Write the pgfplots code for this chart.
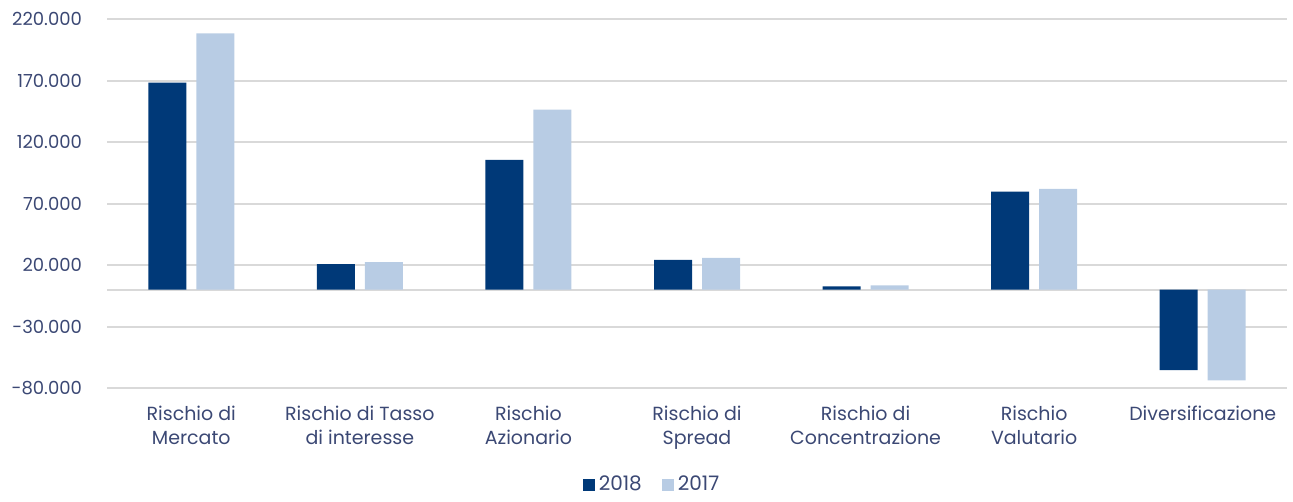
\documentclass[border=0pt]{standalone}
\usepackage{pgfplots}
\pgfplotsset{compat=1.18}
\usepackage{fontspec}
\setmainfont{Poppins}
\definecolor{c2018}{RGB}{0,57,120}
\definecolor{c2017}{RGB}{184,204,228}
\definecolor{gridc}{RGB}{217,217,217}
\definecolor{txt}{RGB}{59,72,116}
\begin{document}
\begin{tikzpicture}
\begin{axis}[
  name=ax,
  scale only axis,
  width=590pt, height=184.5pt,
  ybar=5pt, bar width=19pt,
  xmin=-0.5, xmax=6.5,
  ymin=-80000, ymax=220000,
  xtick={0,1,2,3,4,5,6},
  xticklabels={{Rischio di\\Mercato},{Rischio di Tasso\\di interesse},{Rischio\\Azionario},{Rischio di\\Spread},{Rischio di\\Concentrazione},{Rischio\\Valutario},{Diversificazione}},
  xticklabel style={align=center, font=\fontsize{9.5pt}{12pt}\selectfont, text=txt, yshift=-5.5pt},
  ytick={-80000,-30000,20000,70000,120000,170000,220000},
  yticklabels={-80.000,-30.000,20.000,70.000,120.000,170.000,220.000},
  extra y ticks={0},
  extra y tick labels={},
  extra y tick style={grid=major, major grid style={gridc, line width=1pt}},
  scaled y ticks=false,
  yticklabel style={font=\fontsize{9pt}{11pt}\selectfont, text=txt, xshift=-9pt},
  ymajorgrids,
  major grid style={gridc, line width=1pt},
  axis line style={draw=none},
  major tick length=0pt,
  legend style={at={(rel axis cs:0.4627,-0.262)}, anchor=center, draw=none, legend columns=2, font=\fontsize{10pt}{12pt}\selectfont, text=txt, /tikz/every even column/.append style={column sep=8pt}},
  legend image code/.code={\fill[#1] (0pt,-3pt) rectangle (6pt,3pt);},
  clip=false,
]
\addplot[fill=c2018, draw=none] coordinates {(0,168200) (1,20800) (2,105400) (3,24100) (4,2700) (5,79600) (6,-65500)};
\addplot[fill=c2017, draw=none] coordinates {(0,208400) (1,22400) (2,146300) (3,25700) (4,3500) (5,81800) (6,-73700)};
\legend{2018,2017}
\end{axis}
\path (ax.south west) +(-53.5pt,-55.5pt);
\path (ax.north east) +(3pt,9.5pt);
\end{tikzpicture}
\end{document}
